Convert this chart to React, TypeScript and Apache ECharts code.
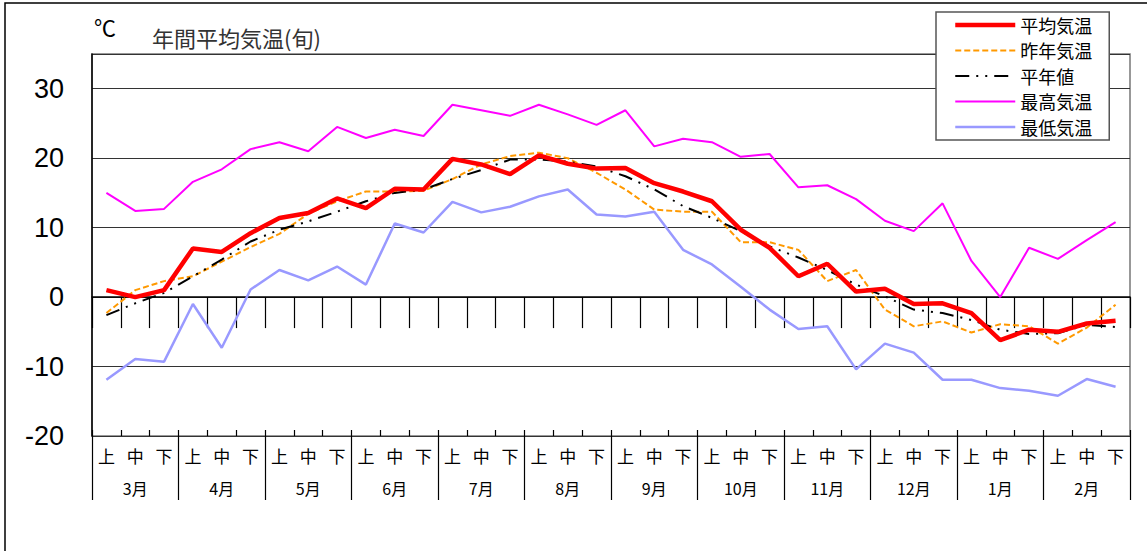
import React, { useEffect, useRef } from "react";
import * as echarts from "echarts";

const months = ["3月", "4月", "5月", "6月", "7月", "8月", "9月", "10月", "11月", "12月", "1月", "2月"];
const dekads = ["上", "中", "下"];
const yTicks = [-20, -10, 0, 10, 20, 30];

const avgTemp = [1.0, 0.0, 1.0, 7.0, 6.5, 9.2, 11.4, 12.1, 14.2, 12.8, 15.6, 15.5, 19.9, 19.1, 17.7, 20.4, 19.2, 18.5, 18.6, 16.4, 15.2, 13.8, 9.7, 7.1, 3.0, 4.8, 0.8, 1.2, -1.0, -0.9, -2.3, -6.2, -4.7, -5.0, -3.8, -3.4];
const lastYear = [-2.3, 1.0, 2.3, 3.0, 5.1, 7.2, 9.1, 12.0, 13.8, 15.2, 15.2, 15.3, 17.0, 19.1, 20.3, 20.8, 20.0, 17.9, 15.5, 12.6, 12.3, 12.3, 7.9, 7.9, 6.8, 2.3, 3.9, -1.8, -4.2, -3.5, -5.1, -3.9, -4.2, -6.7, -4.4, -1.1];
const normal = [-2.6, -0.9, 0.6, 3.0, 5.4, 8.0, 9.7, 10.9, 12.3, 13.8, 15.0, 15.5, 17.0, 18.3, 19.8, 19.8, 19.5, 18.8, 17.4, 15.5, 13.1, 11.4, 9.5, 7.3, 5.7, 3.9, 1.8, 0.1, -1.8, -2.3, -3.3, -4.7, -5.3, -5.2, -4.0, -4.3];
const maxTemp = [15.0, 12.4, 12.7, 16.6, 18.4, 21.3, 22.3, 21.0, 24.5, 22.9, 24.1, 23.2, 27.7, 26.9, 26.1, 27.7, 26.3, 24.8, 26.9, 21.7, 22.8, 22.3, 20.2, 20.6, 15.8, 16.1, 14.1, 11.0, 9.5, 13.5, 5.2, 0.0, 7.1, 5.5, 8.2, 10.8];
const minTemp = [-11.9, -8.9, -9.3, -1.0, -7.3, 1.1, 3.9, 2.4, 4.4, 1.8, 10.6, 9.3, 13.7, 12.2, 13.0, 14.5, 15.5, 11.9, 11.6, 12.3, 6.8, 4.7, 1.5, -1.8, -4.6, -4.2, -10.4, -6.7, -8.0, -11.9, -11.9, -13.1, -13.5, -14.2, -11.8, -12.9];

const CJK = "'Noto Sans CJK JP', sans-serif";

export default function App() {
  const ref = useRef<HTMLDivElement>(null);
  useEffect(() => {
    document.body.style.margin = "0";
    if (!ref.current) return;
    const chart = echarts.init(ref.current, null, { renderer: "svg" });
    const categories = months.flatMap(() => dekads);
    const yMin = yTicks[0];
    const yMax = 35;
    chart.setOption({
      animation: false,
      backgroundColor: "#fff",
      grid: {
        left: 92,
        right: 17,
        top: 54,
        bottom: 115,
        show: true,
        borderColor: "#777",
        borderWidth: 1.5,
        backgroundColor: "transparent",
      },
      legend: {
        orient: "vertical",
        left: 936,
        top: 12,
        itemWidth: 60,
        itemHeight: 18,
        itemGap: 7.5,
        padding: [4, 17, 4, 17],
        borderColor: "#555",
        borderWidth: 1.5,
        backgroundColor: "#fff",
        itemStyle: { opacity: 0 },
        lineStyle: { width: "inherit" },
        textStyle: { fontSize: 18, fontFamily: CJK, color: "#000" },
        data: ["平均気温", "昨年気温", "平年値", "最高気温", "最低気温"],
      },
      graphic: [
        {
          type: "rect",
          shape: { x: 5, y: 3, width: 1170, height: 580 },
          style: { fill: "none", stroke: "#000", lineWidth: 1.5 },
          silent: true,
        },
        {
          type: "text",
          x: 94,
          y: 15,
          style: { text: "℃", fontSize: 22, fontFamily: CJK, fill: "#000" },
        },
        {
          type: "text",
          x: 152,
          y: 26,
          style: { text: "年間平均気温(旬)", fontSize: 22, fontFamily: CJK, fill: "#333" },
        },
      ],
      xAxis: [
        {
          type: "category",
          data: categories,
          position: "bottom",
          axisLine: { show: true, lineStyle: { color: "#000", width: 1.5 } },
          axisTick: { show: true, interval: 0, length: 31, lineStyle: { color: "#000", width: 1.2 } },
          axisLabel: { interval: 0, margin: 11, fontSize: 17, fontFamily: CJK, color: "#000", verticalAlign: "top" },
          splitLine: { show: false },
        },
        {
          type: "category",
          data: categories,
          position: "bottom",
          axisLine: { show: false },
          axisTick: { show: true, interval: 0, inside: true, length: 6, lineStyle: { color: "#000", width: 1.2 } },
          axisLabel: { show: false },
          splitLine: { show: false },
        },
        {
          type: "category",
          data: months,
          position: "bottom",
          axisLine: { show: false },
          axisTick: { show: true, interval: 0, length: 64, lineStyle: { color: "#000", width: 1.2 } },
          axisLabel: { interval: 0, margin: 44, fontSize: 16, fontFamily: CJK, color: "#000", verticalAlign: "top" },
          splitLine: { show: false },
        },
      ],
      yAxis: {
        type: "value",
        min: yMin,
        max: yMax,
        interval: 10,
        axisLine: { show: true, lineStyle: { color: "#000", width: 1.5 } },
        axisTick: { show: false },
        axisLabel: {
          margin: 28,
          fontSize: 27,
          fontFamily: "'Liberation Sans', Arial, sans-serif",
          color: "#000",
          formatter: (v: number) => (yTicks.includes(v) ? String(v) : ""),
        },
        splitLine: { show: true, lineStyle: { color: "#333", width: 1.2 } },
      },
      series: [
        {
          name: "平均気温",
          type: "line",
          data: avgTemp,
          symbol: "none",
          z: 6,
          lineStyle: { color: "#ff0000", width: 4.5 },
          itemStyle: { color: "#ff0000" },
        },
        {
          name: "昨年気温",
          type: "line",
          data: lastYear,
          symbol: "none",
          z: 4,
          lineStyle: { color: "#ff9900", width: 2, type: [6, 3] },
          itemStyle: { color: "#ff9900" },
        },
        {
          name: "平年値",
          type: "line",
          data: normal,
          symbol: "none",
          z: 5,
          lineStyle: { color: "#000", width: 2, type: [14, 7, 2, 7, 2, 7] },
          itemStyle: { color: "#000" },
        },
        {
          name: "最高気温",
          type: "line",
          data: maxTemp,
          symbol: "none",
          z: 3,
          lineStyle: { color: "#ff00ff", width: 2 },
          itemStyle: { color: "#ff00ff" },
        },
        {
          name: "最低気温",
          type: "line",
          data: minTemp,
          symbol: "none",
          z: 3,
          lineStyle: { color: "#9999ff", width: 2.5 },
          itemStyle: { color: "#9999ff" },
        },
      ],
    });
    return () => chart.dispose();
  }, []);
  return <div ref={ref} style={{ width: 1147, height: 551 }} />;
}
